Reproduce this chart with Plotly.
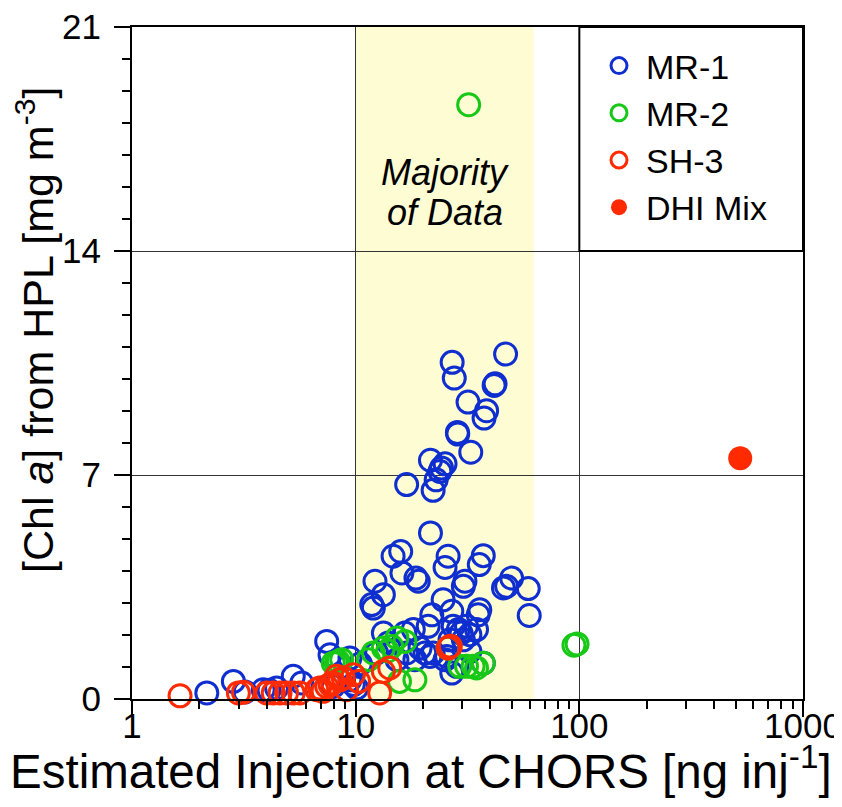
import plotly.graph_objects as go
import numpy as np

# ---- data ----
mr1_x = [27.0, 27.6, 46.8, 42.0, 41.6, 31.8, 38.5, 37.5, 28.5, 28.6, 32.7, 21.6, 25.1, 24.2, 23.8, 22.9, 22.2, 16.9, 21.6,
         14.7, 15.9, 25.9, 25.1, 37.2, 35.7, 16.1, 18.6, 19.05, 12.2, 13.3, 12.0, 11.8, 30.8, 30.3, 49.8, 47.3, 45.8, 59.1, 59.7,
         24.6, 26.9, 21.9, 35.9, 35.3,
         13.3, 14.0, 16.6, 18.1, 21.1, 27.3, 28.8, 31.3, 32.4, 30.3, 26.4, 19.4, 20.4, 21.5, 22.2, 18.4, 16.9, 28.3, 26.9, 25.5,
         37.2, 12.4, 25.1, 32.4, 34.7, 29.6, 15.3,
         7.42, 7.68, 9.43, 9.76, 5.26, 5.74, 2.84, 2.16, 3.86, 4.43, 7.94, 10.1, 9.43, 3.2, 4.1, 10.5]
mr1_y = [10.52, 10.03, 10.78, 9.85, 9.80, 9.28, 9.01, 8.78, 8.33, 8.28, 7.71, 7.46, 7.35, 7.22, 7.11, 6.85, 6.52, 6.70, 5.19,
         4.46, 4.61, 4.46, 4.11, 4.48, 4.20, 3.94, 3.78, 3.68, 3.68, 3.26, 2.84, 2.95, 3.68, 3.52, 3.78, 3.52, 3.47, 3.45, 2.61,
         3.10, 2.74, 2.63, 2.79, 2.63,
         2.06, 1.75, 2.06, 2.17, 2.27, 2.27, 2.17, 2.27, 2.01, 1.85, 1.85, 1.59, 1.44, 1.33, 1.44, 1.23, 1.44, 1.02, 0.81, 1.33,
         1.12, 1.44, 1.23, 1.49, 2.17, 2.06, 1.23,
         1.80, 1.38, 1.28, 0.45, 0.71, 0.50, 0.55, 0.19, 0.29, 0.34, 0.39, 0.34, 0.60, 0.22, 0.27, 1.10]

mr2_x = [15.3, 14.5, 13.3, 12.0, 11.4, 18.4, 15.7, 25.9, 29.2, 31.3, 33.5, 37.2, 34.7, 94.6, 97.7, 8.66, 8.2, 7.94, 8.37,
         32.0, 13.9, 16.6]
mr2_y = [1.91, 1.64, 1.59, 1.44, 1.23, 0.60, 0.55, 1.59, 1.02, 1.02, 1.02, 1.12, 0.97, 1.68, 1.72, 1.23, 1.12, 1.12, 1.17,
         18.57, 1.50, 1.80]

sh3_x = [1.64, 2.99, 3.15, 4.0, 4.28, 4.59, 4.91, 5.26, 5.63, 6.7, 6.9, 7.15, 7.42, 7.68, 8.2, 8.5, 8.8, 9.76, 9.1,
         12.8, 13.3, 14.2, 25.9, 26.5, 7.9, 10.3]
sh3_y = [0.10, 0.19, 0.21, 0.19, 0.19, 0.19, 0.19, 0.19, 0.19, 0.29, 0.34, 0.24, 0.39, 0.45, 0.71, 0.60, 0.66, 0.76, 0.29,
         0.19, 0.86, 0.97, 1.59, 1.65, 0.50, 0.55]

dhi_x = [524]
dhi_y = [7.52]

x_tickvals = [1, 10, 100, 1000]
y_tickvals = [0, 7, 14, 21]
majority_range = [10, 62.5]

BLUE = "#0F2ECF"
GREEN = "#17C817"
RED = "#FF2A00"
FONT = "Liberation Sans, Arial, Helvetica, sans-serif"

fig = go.Figure()

def open_trace(x, y, color, name):
    return go.Scatter(x=x, y=y, mode="markers", name=name, cliponaxis=False,
                      marker=dict(symbol="circle-open", size=22, color=color,
                                  line=dict(color=color, width=3)))

fig.add_trace(open_trace(mr1_x, mr1_y, BLUE, "MR-1"))
fig.add_trace(open_trace(mr2_x, mr2_y, GREEN, "MR-2"))
fig.add_trace(open_trace(sh3_x, sh3_y, RED, "SH-3"))
fig.add_trace(go.Scatter(x=dhi_x, y=dhi_y, mode="markers", name="DHI Mix", cliponaxis=False,
                         marker=dict(symbol="circle", size=24, color=RED, line=dict(width=0))))

xmin, xmax = np.log10(x_tickvals[0]), np.log10(x_tickvals[-1])
def xpaper(v):
    return (np.log10(v) - xmin) / (xmax - xmin)

# Majority of data band
fig.add_shape(type="rect", xref="paper", yref="paper",
              x0=xpaper(majority_range[0]), x1=xpaper(majority_range[1]), y0=0, y1=1,
              fillcolor="#FEFCD3", line=dict(width=0), layer="below")

# legend box occupying the upper-right grid cell
fig.add_shape(type="rect", xref="paper", yref="paper",
              x0=xpaper(100), x1=1, y0=14 / 21, y1=1,
              fillcolor="white", line=dict(color="black", width=2), layer="above")

minor_x = [m * d for d in (1, 10, 100) for m in range(2, 10)]
minor_y = [v for v in range(1, 21) if v % 7]

common = dict(ticks="outside", ticklen=16, tickwidth=1.5, tickcolor="black",
              showline=True, linecolor="black", linewidth=2, mirror=True,
              showgrid=True, gridcolor="#333333", gridwidth=1, zeroline=False,
              automargin=False, ticklabeloverflow="allow")
fig.update_xaxes(type="log", range=[xmin, xmax], tickvals=x_tickvals,
                 ticktext=[str(v) for v in x_tickvals], ticklabelstandoff=-21,
                 tickfont=dict(size=35, color="black", family=FONT),
                 minor=dict(tickvals=minor_x, ticks="outside", ticklen=8, tickwidth=1.5,
                            tickcolor="black", showgrid=False), **common)
fig.update_yaxes(range=[0, 21], tickvals=y_tickvals, ticklabelstandoff=6,
                 tickfont=dict(size=35, color="black", family=FONT),
                 minor=dict(tickvals=minor_y, ticks="outside", ticklen=8, tickwidth=1.5,
                            tickcolor="black", showgrid=False), **common)

# page is shown with an 8px body margin -> layout pixel = screen pixel - 8
W, H = 834, 799
L, R, T, B = 124, 39, 19, 108
pw, ph = W - L - R, H - T - B

def px2paper(px, py):
    return (px - L) / pw, (H - B - py) / ph

ax_, ay_ = px2paper(413, 760)
fig.add_annotation(text="Estimated Injection at CHORS [ng inj<sup>-1</sup>]", xref="paper", yref="paper",
                   x=ax_, y=ay_, showarrow=False, xanchor="center", yanchor="middle",
                   font=dict(size=47.5, color="black", family=FONT))
bx_, by_ = px2paper(27, 322)
fig.add_annotation(text="[Chl <i>a</i>] from HPL [mg m<sup>-3</sup>]", xref="paper", yref="paper",
                   x=bx_, y=by_, showarrow=False, xanchor="center", yanchor="middle", textangle=-90,
                   font=dict(size=43, color="black", family=FONT))
for txt, py in (("Majority", 164), ("of Data", 204)):
    cx, cy = px2paper(437, py)
    fig.add_annotation(text=f"<i>{txt}</i>", xref="paper", yref="paper", x=cx, y=cy,
                       showarrow=False, xanchor="center", yanchor="middle",
                       font=dict(size=36, color="black", family=FONT))

lx, ly = px2paper(584, 29)
fig.update_layout(
    width=W, height=H,
    margin=dict(l=L, r=R, t=T, b=B),
    paper_bgcolor="white", plot_bgcolor="white",
    font=dict(family=FONT, color="black"),
    showlegend=True,
    legend=dict(x=lx, y=ly, xanchor="left", yanchor="top", bgcolor="rgba(0,0,0,0)",
                borderwidth=0, font=dict(size=34, color="black", family=FONT),
                itemsizing="trace", itemwidth=44, tracegroupgap=0),
)

fig.write_html("out.html")
